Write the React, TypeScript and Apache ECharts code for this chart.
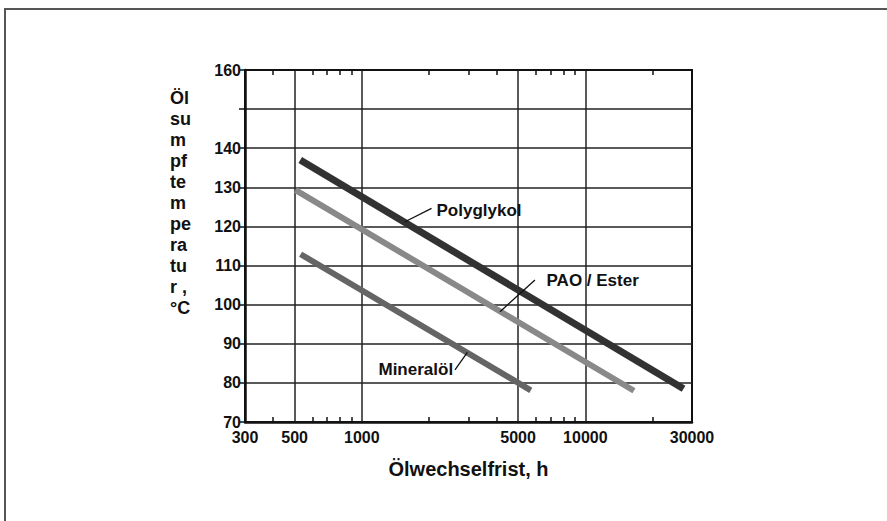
import React, { useEffect, useRef } from "react";
import * as echarts from "echarts";

// ---- data ----
const xLabelValues = [300, 500, 1000, 5000, 10000, 30000];
const xMinorTicks = [400, 600, 700, 800, 900, 2000, 3000, 4000, 6000, 7000, 8000, 9000, 20000];
const xGridValues = [500, 1000, 5000, 10000];
const yHiddenLabel = 150;

const polyglykol = [[530, 137], [27500, 78.5]];
const paoEster = [[505, 129.3], [16500, 78]];
const mineraloel = [[532, 112.9], [5700, 78.1]];

const seriesNames = ["Polyglykol", "PAO / Ester", "Mineralöl"];
const leaderPoly = [[1560, 121.2], [2050, 124.6]];
const leaderPao = [[4150, 98.2], [5950, 106.3]];
const leaderMineral = [[2610, 83.3], [2965, 87.8]];
const labelPoly = [2125, 124];
const labelPao = [6600, 106.3];
const labelMineral = [2600, 83.3];

const yTitleLines = ["Öl", "su", "m", "pf", "te", "m", "pe", "ra", "tu", "r ,", "°C"];

const FONT = "'Liberation Sans', Arial, sans-serif";

function makeSeries(name: string, data: number[][], color: string, width: number, leader: number[][], labelAt: number[], labelPos: string) {
  return {
    type: "line",
    name,
    data,
    symbol: "none",
    silent: true,
    lineStyle: { color, width, cap: "butt" },
    emphasis: { disabled: true },
    markLine: {
      silent: true,
      symbol: ["none", "none"],
      label: { show: false },
      lineStyle: { color: "#111", width: 1.3, type: "solid" },
      data: [[{ coord: leader[0] }, { coord: leader[1] }]],
    },
    markPoint: {
      silent: true,
      symbol: "circle",
      symbolSize: 1,
      itemStyle: { color: "rgba(0,0,0,0)" },
      label: {
        show: true,
        position: labelPos,
        distance: 1,
        formatter: name,
        color: "#111",
        fontFamily: FONT,
        fontWeight: "bold",
        fontSize: 17,
      },
      data: [{ coord: labelAt }],
    },
  };
}

export default function App() {
  const ref = useRef<HTMLDivElement>(null);
  useEffect(() => {
    document.body.style.margin = "0";
    const chart = echarts.init(ref.current!, null, { renderer: "svg" });
    const logAxisBase = { type: "log", logBase: 10, min: 300, max: 30000, gridIndex: 0 };
    chart.setOption({
      animation: false,
      backgroundColor: "#fff",
      grid: { left: 245, top: 70, width: 447, height: 352, show: true, borderColor: "#111", borderWidth: 2, containLabel: false },
      xAxis: [
        {
          ...logAxisBase,
          position: "bottom",
          name: "Ölwechselfrist, h",
          nameLocation: "middle",
          nameGap: 37,
          nameTextStyle: { color: "#111", fontFamily: FONT, fontWeight: "bold", fontSize: 20 },
          axisLine: { show: true, onZero: false, lineStyle: { color: "#111", width: 2.5 } },
          axisTick: { show: true, inside: true, length: 5, customValues: xMinorTicks, lineStyle: { color: "#111", width: 1.5 } },
          axisLabel: {
            show: true,
            customValues: xLabelValues,
            formatter: (v: number) => String(Math.round(v)),
            color: "#111",
            fontFamily: FONT,
            fontWeight: "bold",
            fontSize: 16,
            margin: 7,
          },
          splitLine: { show: false },
          minorTick: { show: false },
        },
        {
          ...logAxisBase,
          position: "top",
          axisLine: { show: true, onZero: false, lineStyle: { color: "#111", width: 2 } },
          axisTick: { show: true, inside: true, length: 5, customValues: xMinorTicks, lineStyle: { color: "#111", width: 1.5 } },
          axisLabel: { show: false },
          splitLine: { show: false },
        },
        {
          ...logAxisBase,
          position: "bottom",
          axisLine: { show: false },
          axisTick: { show: false, customValues: xGridValues },
          axisLabel: { show: false },
          splitLine: { show: true, lineStyle: { color: "#222", width: 1.5 } },
        },
      ],
      yAxis: {
        type: "value",
        min: 70,
        max: 160,
        interval: 10,
        axisLine: { show: true, onZero: false, lineStyle: { color: "#111", width: 2.5 } },
        axisTick: { show: true, length: 6, lineStyle: { color: "#111", width: 1.5 } },
        axisLabel: {
          formatter: (v: number) => (v === yHiddenLabel ? "" : String(v)),
          color: "#111",
          fontFamily: FONT,
          fontWeight: "bold",
          fontSize: 16,
          margin: 4,
        },
        splitLine: { show: true, lineStyle: { color: "#222", width: 1.5 } },
      },
      graphic: [
        {
          type: "rect",
          shape: { x: 5, y: 9, width: 920, height: 620 },
          style: { fill: "none", stroke: "#555", lineWidth: 2 },
          silent: true,
        },
        {
          type: "text",
          x: 170,
          y: 87,
          style: {
            text: yTitleLines.join("\n"),
            fill: "#111",
            font: `bold 18px ${FONT}`,
            lineHeight: 21,
            align: "left",
            verticalAlign: "top",
          },
          silent: true,
        },
      ],
      series: [
        makeSeries(seriesNames[2], mineraloel, "#656565", 6, leaderMineral, labelMineral, "left"),
        makeSeries(seriesNames[1], paoEster, "#898989", 6, leaderPao, labelPao, "right"),
        makeSeries(seriesNames[0], polyglykol, "#323232", 7, leaderPoly, labelPoly, "right"),
      ],
    });
    return () => chart.dispose();
  }, []);
  return <div ref={ref} style={{ width: 887, height: 521 }} />;
}
